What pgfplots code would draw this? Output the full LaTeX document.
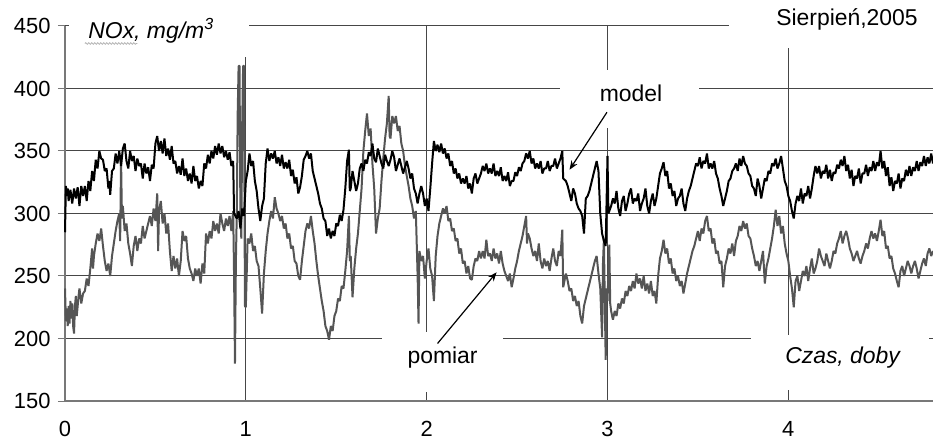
\documentclass[border=0pt]{standalone}
\usepackage{fontspec}
\setmainfont{Liberation Sans}
\usepackage{pgfplots}
\pgfplotsset{compat=1.18}
\usetikzlibrary{calc,decorations.pathmorphing,arrows.meta}
\definecolor{gridc}{RGB}{70,70,70}
\definecolor{axc}{RGB}{120,120,120}
\definecolor{pomc}{RGB}{85,85,85}
\begin{document}
\begin{tikzpicture}
\begin{axis}[
  scale only axis, width=868bp, height=375bp,
  xmin=0, xmax=4.8, ymin=150, ymax=450,
  clip=false,
  axis x line=bottom, axis y line=left,
  axis line style={-, draw=axc, line width=1.2bp},
  xtick={0,1,2,3,4}, ytick={150,200,...,450},
  grid=major, major grid style={draw=gridc, line width=1bp},
  tick align=outside, major tick length=7bp,
  x tick style={draw=none}, y tick style={draw=axc, line width=1bp},
  /pgf/number format/assume math mode=true,
  tick label style={font=\fontsize{22}{24}\selectfont},
  yticklabel style={xshift=-4bp},
  xticklabel style={yshift=-10bp},
]
% white label backgrounds over grid
\fill[white] (axis cs:0.02,425) rectangle (axis cs:1.02,451);
\fill[white] (axis cs:3.674,432) rectangle (axis cs:4.81,451);
\fill[white] (axis cs:2.735,368) rectangle (axis cs:3.508,415);
\fill[white] (axis cs:1.751,157) rectangle (axis cs:2.42,205);
\fill[white] (axis cs:3.796,159) rectangle (axis cs:4.78,203);

\addplot[pomc, line width=2bp, line join=bevel] table {
0.000 240
0.005 214
0.010 224
0.015 210
0.020 226
0.025 212
0.030 230
0.035 216
0.040 228
0.045 210
0.050 204
0.055 226
0.060 234
0.065 218
0.070 226
0.075 234
0.080 240
0.090 228
0.100 236
0.110 238
0.120 248
0.130 242
0.140 256
0.150 272
0.155 256
0.160 266
0.170 276
0.180 284
0.190 278
0.200 288
0.210 274
0.220 262
0.230 254
0.240 260
0.250 250
0.260 266
0.270 276
0.280 286
0.290 294
0.300 300
0.305 278
0.310 343
0.315 296
0.320 306
0.330 286
0.340 292
0.350 276
0.360 268
0.370 258
0.380 274
0.390 282
0.400 270
0.410 280
0.420 276
0.430 290
0.440 280
0.450 286
0.460 292
0.470 298
0.480 290
0.490 304
0.500 294
0.510 316
0.515 270
0.520 302
0.530 310
0.540 292
0.550 300
0.560 284
0.570 292
0.580 270
0.590 254
0.600 266
0.610 256
0.620 264
0.630 250
0.640 262
0.650 286
0.660 278
0.670 282
0.680 264
0.690 256
0.700 252
0.710 246
0.720 256
0.730 250
0.740 256
0.750 244
0.760 260
0.770 252
0.780 284
0.790 276
0.800 286
0.810 280
0.820 294
0.830 286
0.840 292
0.850 284
0.860 300
0.870 292
0.880 286
0.890 296
0.900 290
0.910 298
0.920 286
0.930 302
0.935 250
0.940 180
0.945 262
0.950 300
0.955 380
0.960 418
0.965 418
0.970 300
0.975 280
0.980 372
0.985 418
0.990 418
0.995 226
1.000 225
1.010 280
1.020 276
1.030 284
1.040 270
1.050 274
1.060 262
1.070 258
1.080 240
1.090 220
1.100 252
1.110 270
1.120 284
1.130 294
1.140 302
1.150 296
1.160 313
1.170 304
1.180 300
1.190 294
1.200 298
1.210 288
1.220 292
1.230 280
1.240 284
1.250 272
1.260 274
1.270 262
1.280 260
1.290 250
1.300 247
1.310 262
1.320 274
1.330 286
1.340 292
1.350 288
1.360 298
1.370 286
1.380 276
1.390 262
1.400 250
1.410 240
1.420 230
1.430 222
1.440 210
1.450 206
1.460 199
1.470 210
1.480 206
1.490 218
1.500 222
1.510 232
1.520 230
1.530 242
1.540 240
1.550 254
1.560 270
1.570 298
1.575 262
1.580 266
1.590 233
1.600 256
1.610 272
1.620 284
1.630 302
1.640 320
1.650 350
1.660 366
1.670 380
1.680 362
1.690 368
1.700 340
1.710 320
1.720 284
1.730 296
1.740 304
1.750 326
1.760 344
1.770 360
1.780 372
1.790 394
1.795 362
1.800 360
1.810 378
1.820 372
1.830 378
1.840 366
1.850 370
1.860 356
1.870 350
1.880 338
1.890 330
1.900 322
1.910 312
1.920 306
1.930 296
1.940 302
1.950 250
1.955 212
1.960 270
1.970 262
1.980 266
1.990 248
2.000 262
2.010 272
2.020 256
2.030 250
2.040 230
2.050 266
2.060 282
2.070 292
2.080 298
2.090 304
2.100 300
2.110 306
2.120 294
2.130 296
2.140 286
2.150 288
2.160 278
2.170 280
2.180 268
2.190 272
2.200 260
2.210 262
2.220 252
2.230 258
2.240 248
2.250 247
2.260 258
2.270 264
2.280 262
2.290 270
2.300 264
2.310 270
2.320 264
2.330 279
2.340 266
2.350 268
2.360 262
2.370 272
2.380 264
2.390 268
2.400 260
2.410 270
2.420 260
2.430 254
2.440 250
2.450 246
2.460 252
2.470 241
2.480 248
2.490 256
2.500 262
2.510 270
2.520 276
2.530 282
2.540 290
2.550 298
2.555 276
2.560 284
2.570 280
2.580 272
2.590 266
2.600 270
2.610 262
2.620 276
2.630 262
2.640 256
2.650 264
2.660 258
2.670 262
2.680 254
2.690 264
2.700 272
2.710 262
2.720 258
2.730 270
2.740 266
2.750 287
2.755 241
2.770 252
2.780 246
2.790 238
2.800 240
2.810 230
2.820 234
2.830 226
2.840 230
2.850 218
2.860 212
2.870 226
2.880 232
2.890 238
2.900 244
2.910 250
2.920 256
2.930 262
2.940 266
2.950 252
2.960 240
2.970 201
2.975 260
2.980 279
2.985 230
2.990 183
2.995 240
3.000 230
3.010 275
3.015 228
3.020 222
3.030 215
3.040 222
3.050 218
3.060 228
3.070 224
3.080 232
3.090 228
3.100 238
3.110 234
3.120 242
3.130 238
3.140 246
3.150 240
3.160 252
3.170 244
3.180 248
3.190 240
3.200 250
3.210 238
3.220 244
3.230 236
3.240 246
3.250 234
3.260 238
3.270 228
3.280 250
3.290 264
3.300 270
3.310 279
3.320 268
3.330 272
3.340 260
3.350 264
3.360 252
3.370 256
3.380 246
3.390 250
3.400 242
3.410 246
3.420 236
3.430 244
3.440 252
3.450 258
3.460 264
3.470 270
3.480 274
3.490 280
3.500 286
3.510 278
3.520 288
3.530 284
3.540 294
3.550 298
3.560 286
3.570 288
3.580 276
3.590 280
3.600 268
3.610 270
3.620 260
3.630 262
3.640 241
3.650 258
3.660 264
3.670 272
3.680 268
3.690 276
3.700 266
3.710 278
3.720 282
3.730 290
3.740 286
3.750 294
3.760 288
3.770 292
3.780 282
3.790 280
3.800 272
3.810 266
3.820 258
3.830 262
3.840 254
3.850 262
3.860 270
3.870 244
3.880 258
3.890 264
3.900 272
3.910 280
3.920 290
3.930 303
3.940 290
3.950 298
3.960 284
3.970 290
3.980 276
3.990 268
4.000 262
4.010 250
4.020 240
4.030 225
4.040 246
4.050 250
4.060 238
4.070 246
4.080 254
4.090 250
4.100 258
4.110 246
4.120 256
4.130 264
4.140 252
4.150 256
4.160 262
4.170 272
4.180 266
4.190 262
4.200 258
4.210 268
4.220 262
4.230 256
4.240 262
4.250 270
4.260 268
4.270 276
4.280 280
4.290 286
4.300 276
4.310 282
4.320 286
4.330 280
4.340 272
4.350 268
4.360 262
4.370 266
4.380 270
4.390 264
4.400 260
4.410 266
4.420 270
4.430 276
4.440 272
4.450 280
4.460 286
4.470 280
4.480 284
4.490 278
4.500 286
4.510 295
4.520 282
4.530 286
4.540 272
4.550 274
4.560 264
4.570 266
4.580 256
4.590 252
4.600 246
4.610 241
4.620 254
4.630 258
4.640 250
4.650 256
4.660 262
4.670 258
4.680 252
4.690 258
4.700 262
4.710 256
4.720 248
4.730 254
4.740 260
4.750 264
4.760 258
4.770 268
4.780 272
4.790 266
4.800 270
};

\addplot[black, line width=2bp, line join=bevel] table {
0.000 285
0.005 322
0.010 314
0.015 320
0.020 310
0.030 319
0.040 308
0.050 320
0.060 312
0.070 321
0.080 306
0.090 322
0.100 314
0.110 322
0.120 310
0.130 326
0.140 318
0.150 334
0.160 326
0.170 343
0.180 336
0.190 350
0.200 344
0.210 343
0.220 334
0.230 336
0.240 320
0.245 326
0.250 315
0.260 334
0.270 336
0.280 348
0.290 340
0.300 350
0.310 338
0.320 352
0.330 356
0.340 342
0.350 336
0.360 350
0.370 342
0.380 346
0.390 334
0.400 344
0.410 338
0.420 340
0.430 328
0.440 340
0.450 332
0.460 337
0.470 326
0.480 339
0.490 336
0.500 356
0.510 362
0.520 350
0.530 358
0.540 348
0.550 360
0.560 346
0.570 352
0.580 343
0.590 354
0.600 340
0.610 342
0.620 332
0.630 338
0.640 331
0.650 344
0.660 330
0.670 336
0.680 326
0.690 332
0.700 324
0.710 338
0.720 326
0.730 330
0.740 320
0.750 326
0.760 322
0.770 340
0.780 336
0.790 347
0.800 340
0.810 350
0.820 344
0.830 354
0.840 347
0.850 356
0.860 348
0.870 354
0.880 345
0.890 350
0.900 343
0.910 349
0.920 338
0.930 342
0.935 300
0.950 296
0.960 302
0.970 288
0.980 304
0.990 298
1.000 326
1.010 334
1.020 348
1.030 338
1.040 342
1.050 326
1.060 318
1.070 304
1.080 294
1.090 306
1.100 312
1.110 340
1.120 352
1.130 342
1.140 348
1.150 344
1.160 350
1.170 340
1.180 345
1.190 338
1.200 347
1.210 336
1.220 341
1.230 336
1.240 343
1.250 330
1.260 335
1.270 324
1.280 329
1.290 316
1.300 321
1.310 330
1.320 343
1.330 346
1.340 350
1.350 344
1.360 348
1.370 334
1.380 328
1.390 322
1.400 316
1.410 308
1.420 304
1.430 296
1.440 294
1.450 282
1.460 288
1.470 280
1.480 286
1.490 282
1.500 292
1.510 290
1.520 299
1.530 294
1.540 303
1.550 320
1.560 342
1.570 351
1.575 318
1.580 320
1.590 334
1.600 326
1.610 318
1.620 324
1.630 336
1.640 340
1.650 334
1.660 343
1.670 340
1.680 349
1.690 346
1.700 356
1.710 344
1.720 341
1.730 352
1.740 346
1.750 340
1.760 336
1.770 347
1.780 342
1.790 338
1.800 343
1.810 350
1.820 345
1.830 334
1.840 339
1.850 344
1.860 338
1.870 332
1.880 337
1.890 342
1.900 336
1.910 328
1.920 332
1.930 320
1.940 316
1.950 308
1.960 316
1.970 322
1.980 316
1.990 306
2.000 312
2.010 302
2.020 320
2.030 340
2.040 358
2.050 350
2.060 355
2.070 349
2.080 356
2.090 348
2.100 352
2.110 344
2.120 348
2.130 338
2.140 342
2.150 332
2.160 336
2.170 328
2.180 332
2.190 324
2.200 328
2.210 324
2.220 330
2.230 320
2.240 324
2.250 316
2.260 328
2.270 332
2.280 324
2.290 328
2.300 332
2.310 338
2.320 334
2.330 340
2.340 332
2.350 336
2.360 332
2.370 340
2.380 330
2.390 334
2.400 330
2.410 337
2.420 326
2.430 330
2.440 326
2.450 333
2.460 322
2.470 326
2.480 326
2.490 333
2.500 330
2.510 337
2.520 334
2.530 340
2.540 342
2.550 348
2.560 344
2.570 350
2.580 340
2.590 344
2.600 336
2.610 340
2.620 336
2.630 342
2.640 332
2.650 336
2.660 336
2.670 342
2.680 334
2.690 338
2.700 338
2.710 344
2.720 336
2.730 340
2.740 344
2.750 350
2.755 328
2.770 326
2.780 322
2.790 316
2.800 310
2.810 320
2.820 316
2.830 308
2.840 304
2.850 302
2.860 298
2.870 284
2.880 312
2.890 314
2.900 318
2.910 324
2.920 330
2.930 336
2.940 342
2.950 334
2.960 300
2.970 284
2.980 278
2.990 274
3.000 346
3.005 300
3.020 306
3.030 312
3.040 308
3.050 318
3.060 304
3.070 298
3.080 310
3.090 314
3.100 302
3.110 308
3.120 316
3.130 320
3.140 308
3.150 312
3.160 310
3.170 316
3.180 302
3.190 308
3.200 312
3.210 320
3.220 306
3.230 300
3.240 310
3.250 316
3.260 306
3.270 312
3.280 322
3.290 332
3.300 336
3.310 341
3.320 330
3.330 334
3.340 320
3.350 324
3.360 314
3.370 318
3.380 306
3.390 312
3.400 314
3.410 320
3.420 308
3.430 302
3.440 312
3.450 318
3.460 322
3.470 328
3.480 334
3.490 340
3.500 338
3.510 345
3.520 336
3.530 342
3.540 340
3.550 348
3.560 336
3.570 340
3.580 336
3.590 342
3.600 332
3.610 328
3.620 320
3.630 314
3.640 306
3.650 312
3.660 318
3.670 326
3.680 328
3.690 334
3.700 336
3.710 340
3.720 334
3.730 344
3.740 338
3.750 346
3.760 340
3.770 338
3.780 332
3.790 330
3.800 322
3.810 320
3.820 314
3.830 328
3.840 322
3.850 312
3.860 320
3.870 328
3.880 326
3.890 334
3.900 332
3.910 340
3.920 338
3.930 344
3.940 336
3.950 340
3.960 346
3.970 336
3.980 326
3.990 322
4.000 314
4.010 310
4.020 302
4.030 296
4.040 308
4.050 314
4.060 310
4.070 320
4.080 308
4.090 316
4.100 314
4.110 322
4.120 312
4.130 320
4.140 330
4.150 338
4.160 332
4.170 338
4.180 328
4.190 334
4.200 332
4.210 339
4.220 328
4.230 335
4.240 326
4.250 333
4.260 332
4.270 339
4.280 336
4.290 343
4.300 338
4.310 346
4.320 334
4.330 339
4.340 328
4.350 335
4.360 322
4.370 330
4.380 328
4.390 336
4.400 324
4.410 332
4.420 332
4.430 339
4.440 330
4.450 337
4.460 334
4.470 342
4.480 334
4.490 341
4.500 338
4.510 350
4.520 336
4.530 342
4.540 330
4.550 337
4.560 322
4.570 329
4.580 318
4.590 326
4.600 324
4.610 332
4.620 320
4.630 328
4.640 326
4.650 335
4.660 330
4.670 338
4.680 330
4.690 337
4.700 334
4.710 342
4.720 334
4.730 341
4.740 338
4.750 346
4.760 338
4.770 345
4.780 340
4.790 348
4.800 340
};

% labels
\node[anchor=west, font=\fontsize{23}{25}\selectfont\itshape] at (axis cs:0.11,446) {NOx, mg/m\textsuperscript{3}};
\draw[gray!60, line width=0.8bp, decorate, decoration={snake, amplitude=0.8bp, segment length=3bp}] (axis cs:0.11,436) -- (axis cs:0.40,436);
\node[anchor=east, font=\fontsize{23}{25}\selectfont] at (axis cs:4.735,455) {Sierpień,2005};
\node[font=\fontsize{23}{25}\selectfont] at (axis cs:3.13,396) {model};
\node[font=\fontsize{23}{25}\selectfont] at (axis cs:2.088,185) {pomiar};
\node[font=\fontsize{23}{25}\selectfont\itshape] at (axis cs:4.30,185) {Czas, doby};
\draw[-{Stealth[length=9bp,width=7bp]}, line width=1.2bp] (axis cs:2.997,381) -- (axis cs:2.79,335);
\draw[-{Stealth[length=9bp,width=7bp]}, line width=1.2bp] (axis cs:2.06,196) -- (axis cs:2.387,253);
\end{axis}
\pgfresetboundingbox
\path[use as bounding box] ($(current axis.south west)+(-65bp,-43bp)$) rectangle ($(current axis.north east)+(0,26bp)$);
\end{tikzpicture}
\end{document}
